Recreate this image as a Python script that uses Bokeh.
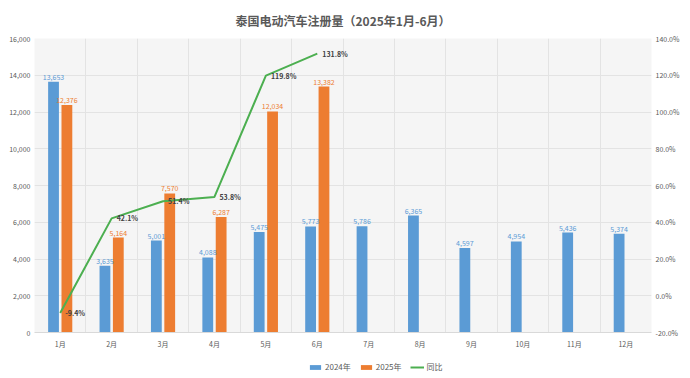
from bokeh.plotting import figure
from bokeh.layouts import column
from bokeh.models import (Range1d, LinearAxis, ColumnDataSource, FactorRange, Legend, LegendItem,
                          NumeralTickFormatter, PrintfTickFormatter, FixedTicker)
from bokeh.transform import dodge
from bokeh.core.properties import value
from bokeh.embed import file_html
from bokeh.resources import INLINE

months = ["1月", "2月", "3月", "4月", "5月", "6月", "7月", "8月", "9月", "10月", "11月", "12月"]
sales_2024 = [13653, 3635, 5001, 4088, 5475, 5773, 5786, 6365, 4597, 4954, 5436, 5374]
months_2025 = ["1月", "2月", "3月", "4月", "5月", "6月"]
sales_2025 = [12376, 5164, 7570, 6287, 12034, 13382]
yoy_pct = [-9.4, 42.1, 51.4, 53.8, 119.8, 131.8]
left_ticks = [0, 2000, 4000, 6000, 8000, 10000, 12000, 14000, 16000]
right_ticks = [-20, 0, 20, 40, 60, 80, 100, 120, 140]
legend_labels = ["2024年", "2025年", "同比"]

FONT = "Noto Sans CJK SC"
GRAY = "#595959"
BLUE = "#5B9BD5"
ORANGE = "#ED7D31"
GREEN = "#4CAF50"

src24 = ColumnDataSource(dict(month=months, v=sales_2024, lab=[f"{v:,}" for v in sales_2024]))
src25 = ColumnDataSource(dict(month=months_2025, v=sales_2025, lab=[f"{v:,}" for v in sales_2025]))
srcy = ColumnDataSource(dict(month=months_2025, v=yoy_pct, lab=[f"{v:.1f}%" for v in yoy_pct]))

p = figure(x_range=FactorRange(*months), y_range=Range1d(0, 16000),
           width=682, height=351, output_backend="svg", toolbar_location=None,
           min_border_left=34, min_border_right=30, min_border_top=33, min_border_bottom=16,
           background_fill_color="#f5f5f5", border_fill_color="white")
p.outline_line_color = None

p.title.text = "泰国电动汽车注册量（2025年1月-6月）"
p.title.align = "center"
p.title.text_font = FONT
p.title.text_font_size = "12px"
p.title.text_color = GRAY
p.title.text_font_style = "bold"
p.title.text_line_height = 1.0
p.title.standoff = 19

p.extra_y_ranges = {"pct": Range1d(-20, 140)}

p.vbar(x=dodge("month", -0.13, range=p.x_range), top="v", width=0.21, source=src24,
       fill_color=BLUE, line_color=None)
p.vbar(x=dodge("month", 0.13, range=p.x_range), top="v", width=0.21, source=src25,
       fill_color=ORANGE, line_color=None)
p.line(x="month", y="v", source=srcy, y_range_name="pct", line_color=GREEN, line_width=2)

p.text(x=dodge("month", -0.13, range=p.x_range), y="v", text="lab", source=src24,
       text_font=value(FONT), text_font_size="7px", text_color=BLUE,
       text_align="center", text_baseline="bottom", y_offset=-2)
p.text(x=dodge("month", 0.13, range=p.x_range), y="v", text="lab", source=src25,
       text_font=value(FONT), text_font_size="7px", text_color=ORANGE,
       text_align="center", text_baseline="bottom", y_offset=-2)
p.text(x="month", y="v", text="lab", source=srcy, y_range_name="pct",
       text_font=value(FONT), text_font_size="7px", text_color="#404040", text_font_style="bold",
       text_align="left", text_baseline="middle", x_offset=5)

# axes
p.yaxis.ticker = FixedTicker(ticks=left_ticks)
p.yaxis.formatter = NumeralTickFormatter(format="0,0")
ax_r = LinearAxis(y_range_name="pct", ticker=FixedTicker(ticks=right_ticks),
                  formatter=PrintfTickFormatter(format="%.1f%%"))
p.add_layout(ax_r, "right")
for ax in (p.yaxis[0], ax_r, p.xaxis[0]):
    ax.major_tick_line_color = None
    ax.minor_tick_line_color = None
    ax.major_tick_out = 0
    ax.major_tick_in = 0
    ax.minor_tick_out = 0
    ax.minor_tick_in = 0
    ax.major_label_text_font = FONT
    ax.major_label_text_font_size = "7px"
    ax.major_label_text_color = GRAY
    ax.major_label_standoff = 4
p.yaxis[0].axis_line_color = None
ax_r.axis_line_color = None
p.xaxis.axis_line_color = "#d9d9d9"
p.xaxis.major_label_standoff = 6

p.ygrid.ticker = FixedTicker(ticks=left_ticks)
p.ygrid.grid_line_color = "#e3e3e3"
p.xgrid.ticker = FixedTicker(ticks=list(range(13)))
p.xgrid.grid_line_color = "#e3e3e3"

# legend strip underneath (same series as hidden renderers, so only the legend shows)
lg = figure(width=682, height=21, output_backend="svg", toolbar_location=None,
            x_axis_type=None, y_axis_type=None,
            x_range=FactorRange(*months), y_range=Range1d(-1001, -1000),
            min_border_left=0, min_border_right=0, min_border_top=0, min_border_bottom=0,
            border_fill_color="white", background_fill_color="white")
lg.outline_line_color = None
lg.grid.visible = False
r1 = lg.vbar(x="month", top="v", width=0.21, source=src24, fill_color=BLUE, line_color=None)
r2 = lg.vbar(x="month", top="v", width=0.21, source=src25, fill_color=ORANGE, line_color=None)
r3 = lg.line(x="month", y="v", source=srcy, line_color=GREEN, line_width=2)
for r in (r1, r2, r3):
    r.visible = False
legend = Legend(items=[LegendItem(label=legend_labels[0], renderers=[r1]),
                       LegendItem(label=legend_labels[1], renderers=[r2]),
                       LegendItem(label=legend_labels[2], renderers=[r3])],
                orientation="horizontal", location=(274, 0),
                label_text_font=FONT, label_text_font_size="8px", label_text_color=GRAY,
                glyph_width=14, glyph_height=6, label_standoff=3, spacing=8, label_height=10,
                border_line_color=None, background_fill_alpha=0, padding=2, margin=0,
                inactive_fill_alpha=0)
lg.add_layout(legend)

layout = column(p, lg, spacing=0)
open("out.html", "w").write(file_html(layout, INLINE))
